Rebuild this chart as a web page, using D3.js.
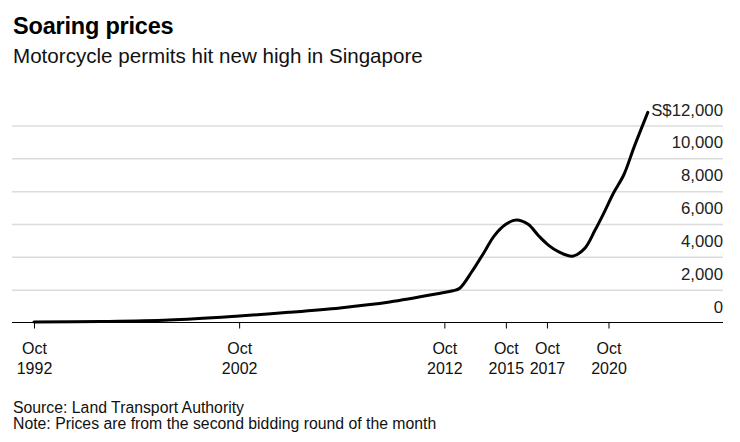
<!DOCTYPE html>
<html>
<head>
<meta charset="utf-8">
<script src="https://cdn.jsdelivr.net/npm/d3@7"></script>
<style>
  html, body { margin: 0; padding: 0; background: #fff; }
  svg { display: block; font-family: "Liberation Sans", Arial, Helvetica, sans-serif; }
</style>
</head>
<body>
<svg id="chart" width="740" height="442"></svg>
<script>
// ---- data ----
const months = ["1992-10","1996-01","1999-05","2002-10","2005-03","2007-09","2010-02","2012-07",
  "2013-03","2013-07","2014-02","2014-10","2015-03","2015-10","2016-04","2016-11","2017-05",
  "2017-11","2018-05","2019-01","2019-08","2020-02","2020-07","2021-01","2021-07","2022-01","2022-09"];
const prices = [30, 60, 150, 400, 620, 890, 1250, 1770,
  1930, 2090, 3090, 4400, 5250, 5980, 6240, 5980, 5300,
  4700, 4300, 4040, 4500, 5600, 6600, 7900, 9000, 10700, 12800];
const xTickMonths = ["1992-10","2002-10","2012-10","2015-10","2017-10","2020-10"];
const xTickTop = ["Oct","Oct","Oct","Oct","Oct","Oct"];
const xTickBottom = ["1992","2002","2012","2015","2017","2020"];
const yTickValues = [0, 2000, 4000, 6000, 8000, 10000, 12000];

const title = "Soaring prices";
const subtitle = "Motorcycle permits hit new high in Singapore";
const notes = ["Source: Land Transport Authority", "Note: Prices are from the second bidding round of the month"];

// ---- setup ----
const parse = d3.timeParse("%Y-%m");
const data = months.map((m, i) => ({ date: parse(m), value: prices[i] }));
const svg = d3.select("#chart");

const left = 12, right = 723;
const x = d3.scaleTime()
  .domain([parse("1992-10"), parse("2022-10")])
  .range([34, 649.5]);
const y = d3.scaleLinear().domain([0, 12000]).range([322.5, 125.5]);

// titles
svg.append("text").attr("x", 13).attr("y", 34)
  .attr("font-size", 23.5).attr("font-weight", "bold").attr("fill", "#000")
  .attr("letter-spacing", -0.2).text(title);
svg.append("text").attr("x", 13).attr("y", 63)
  .attr("font-size", 20.6).attr("fill", "#111").text(subtitle);

// gridlines
const grid = svg.append("g").attr("transform", `translate(${right},0)`)
  .call(d3.axisLeft(y).tickValues(yTickValues.filter(v => v > 0)).tickSize(right - left).tickFormat(""));
grid.select(".domain").remove();
grid.selectAll(".tick line").attr("stroke", "#dcdcdc").attr("stroke-width", 1.5);

// y labels
const fmt = d3.format(",");
const yl = svg.append("g").attr("transform", `translate(${right},0)`)
  .call(d3.axisLeft(y).tickValues(yTickValues).tickSize(0).tickPadding(0)
    .tickFormat(d => d === 12000 ? "S$" + fmt(d) : fmt(d)));
yl.select(".domain").remove();
yl.selectAll(".tick text")
  .attr("x", 0).attr("dy", -10.5).attr("text-anchor", "end")
  .attr("font-size", 16.8).attr("fill", "#222")
  .style("font-family", "'Liberation Sans', Arial, sans-serif");

// x axis
const xa = svg.append("g").attr("transform", `translate(0,${y(0)})`)
  .call(d3.axisBottom(x).tickValues(xTickMonths.map(parse)).tickSize(6).tickFormat(""));
xa.select(".domain").remove();
xa.selectAll(".tick line").attr("stroke", "#000").attr("stroke-width", 1);
xa.selectAll(".tick").each(function(d, i) {
  const t = d3.select(this).append("text").attr("fill", "#111").attr("font-size", 16)
    .attr("text-anchor", "middle")
    .style("font-family", "'Liberation Sans', Arial, sans-serif");
  t.append("tspan").attr("x", 0).attr("y", 31).text(xTickTop[i]);
  t.append("tspan").attr("x", 0).attr("y", 51).text(xTickBottom[i]);
});
svg.append("line").attr("x1", left).attr("x2", right)
  .attr("y1", y(0)).attr("y2", y(0)).attr("stroke", "#000").attr("stroke-width", 1.2);

// line
const line = d3.line().x(d => x(d.date)).y(d => y(d.value)).curve(d3.curveCatmullRom.alpha(0.5));
svg.append("path").datum(data).attr("d", line)
  .attr("fill", "none").attr("stroke", "#000").attr("stroke-width", 3)
  .attr("stroke-linejoin", "round").attr("stroke-linecap", "round");

// notes
notes.forEach((n, i) => {
  svg.append("text").attr("x", 13).attr("y", 413 + i * 16)
    .attr("font-size", 15.8).attr("fill", "#111").text(n);
});
</script>
</body>
</html>
